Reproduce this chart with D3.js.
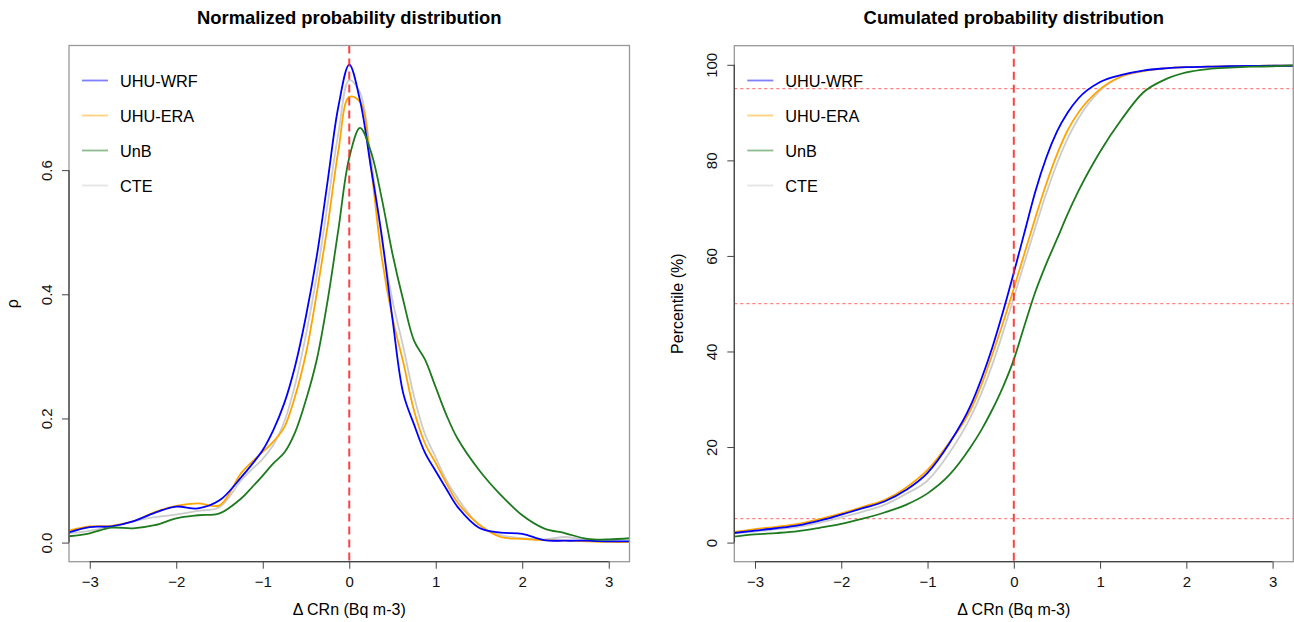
<!DOCTYPE html>
<html><head><meta charset="utf-8">
<script src="https://cdn.jsdelivr.net/npm/d3@7"></script>
<style>body{margin:0;background:#fff}svg{display:block;font-family:"Liberation Sans",Arial,sans-serif}</style>
</head><body><svg id="c" width="1294" height="622"></svg>
<script>
const seriesNames = ["UHU-WRF","UHU-ERA","UnB","CTE"];
const seriesColors = ["#0000ff","#ffa500","#1e7a1e","#cccccc"];
const drawOrder = [3,1,0,2];

// density panel
const densX = [-3.25,-3,-2.75,-2.5,-2.25,-2,-1.75,-1.5,-1.25,-1.125,-1,-0.875,-0.75,-0.625,-0.5,-0.375,-0.25,-0.125,0,0.125,0.25,0.375,0.5,0.625,0.75,0.875,1,1.125,1.25,1.5,1.75,2,2.25,2.5,2.75,3,3.25];
const densWRF = [0.016,0.025,0.026,0.034,0.048,0.058,0.055,0.068,0.105,0.126,0.149,0.182,0.225,0.285,0.365,0.462,0.582,0.703,0.770,0.712,0.605,0.495,0.36,0.24,0.19,0.145,0.115,0.086,0.058,0.024,0.016,0.014,0.004,0.003,0.003,0.002,0.002];
const densERA = [0.019,0.026,0.027,0.034,0.049,0.059,0.063,0.060,0.112,0.130,0.146,0.163,0.186,0.236,0.305,0.402,0.51,0.632,0.718,0.71,0.605,0.46,0.362,0.29,0.212,0.16,0.128,0.095,0.065,0.029,0.009,0.006,0.004,0.003,0.002,0.001,0.001];
const densUnB = [0.010,0.015,0.024,0.023,0.028,0.039,0.044,0.047,0.071,0.089,0.108,0.128,0.145,0.178,0.23,0.295,0.39,0.505,0.62,0.668,0.63,0.555,0.465,0.39,0.325,0.295,0.25,0.205,0.168,0.117,0.077,0.044,0.023,0.015,0.006,0.005,0.007];
const densCTE = [0.015,0.019,0.026,0.034,0.041,0.045,0.051,0.057,0.100,0.118,0.135,0.158,0.195,0.255,0.335,0.43,0.545,0.66,0.745,0.725,0.62,0.488,0.39,0.315,0.235,0.175,0.137,0.10,0.072,0.029,0.012,0.007,0.005,0.009,0.004,0.002,0.002];

// cumulative panel
const cumX = [-3.25,-3,-2.75,-2.5,-2.25,-2,-1.75,-1.5,-1.25,-1,-0.75,-0.5,-0.375,-0.25,-0.125,0,0.125,0.25,0.375,0.5,0.625,0.75,1,1.25,1.5,1.75,2,2.25,2.5,2.75,3,3.25];
const cumWRF = [2.0,2.5,3.0,3.6,4.6,5.85,7.2,8.6,11.0,14.6,20.7,28.7,34.3,40.8,48.3,56.5,65.0,73.5,80.5,86.0,90.0,93.0,96.4,97.9,98.8,99.25,99.5,99.6,99.7,99.75,99.8,99.8];
const cumERA = [2.2,2.8,3.3,3.9,4.9,6.1,7.5,8.9,11.5,15.2,20.9,27.8,33.0,39.3,46.0,53.2,60.6,68.0,75.0,81.2,86.3,90.0,94.9,97.6,98.7,99.25,99.5,99.6,99.7,99.75,99.8,99.8];
const cumUnB = [1.25,1.7,2.0,2.4,3.1,3.9,5.0,6.3,7.9,10.3,14.1,20.0,23.6,27.8,32.6,38.3,45.5,52.5,58.3,63.5,68.8,73.6,81.8,88.6,94.2,96.9,98.4,99.1,99.4,99.6,99.7,99.9];
const cumCTE = [1.9,2.3,2.8,3.3,4.2,5.3,6.5,7.9,10.2,13.0,18.7,26.3,31.3,37.2,44.0,51.3,58.7,66.0,73.0,79.3,84.6,88.8,94.6,97.5,98.7,99.25,99.5,99.6,99.7,99.75,99.8,99.8];

const xTicks = [-3,-2,-1,0,1,2,3];
const densTicks = [0,0.2,0.4,0.6];
const densTickLabels = ["0.0","0.2","0.4","0.6"];
const cumTicks = [0,20,40,60,80,100];
const cumRefLines = [5,50,95];

const svg = d3.select("#c");
const densSeries = [densWRF,densERA,densUnB,densCTE];
const cumSeries = [cumWRF,cumERA,cumUnB,cumCTE];

function panel(o){
  const g = svg.append("g");
  const x = d3.scaleLinear().domain([-3.24,3.24]).range([o.left,o.right]);
  const y = d3.scaleLinear().domain(o.ydom).range([o.bottom,o.top]);
  g.append("text").attr("x",(o.left+o.right)/2).attr("y",24).attr("text-anchor","middle")
    .attr("font-weight","bold").attr("font-size",18.4).text(o.title);
  (o.hlines||[]).forEach(v=>{
    g.append("line").attr("x1",o.left).attr("x2",o.right).attr("y1",y(v)).attr("y2",y(v))
      .attr("stroke","#ff3030").attr("stroke-opacity",0.75).attr("stroke-width",1).attr("stroke-dasharray","3,3");
  });
  const line = d3.line().x(d=>x(d[0])).y(d=>y(d[1])).curve(o.curve);
  const cp = g.append("clipPath").attr("id","cp"+o.id);
  cp.append("rect").attr("x",o.left).attr("y",o.top).attr("width",o.right-o.left).attr("height",o.bottom-o.top);
  const lg = g.append("g").attr("clip-path","url(#cp"+o.id+")");
  drawOrder.forEach(i=>{
    lg.append("path").attr("d",line(o.xs.map((v,k)=>[v,o.series[i][k]])))
      .attr("fill","none").attr("stroke",seriesColors[i]).attr("stroke-width",1.8);
  });
  g.append("line").attr("x1",x(0)).attr("x2",x(0)).attr("y1",o.top).attr("y2",o.bottom)
    .attr("stroke","#ff2020").attr("stroke-opacity",0.85).attr("stroke-width",2).attr("stroke-dasharray","8,5");
  g.append("rect").attr("x",o.left).attr("y",o.top).attr("width",o.right-o.left).attr("height",o.bottom-o.top)
    .attr("fill","none").attr("stroke","#999").attr("stroke-width",1.3);
  const xa = g.append("g").attr("transform",`translate(0,${o.bottom})`)
    .call(d3.axisBottom(x).tickValues(xTicks).tickSize(7).tickPadding(8).tickFormat(d3.format("d")));
  xa.select(".domain").attr("d",`M${x(-3)},0H${x(3)}`).attr("stroke","#444").attr("stroke-width",1.3);
  xa.selectAll(".tick line").attr("stroke","#444");
  xa.selectAll("text").attr("font-size",15).attr("fill","#111").attr("font-family","Liberation Sans, Arial, sans-serif");
  const ya = g.append("g").attr("transform",`translate(${o.left},0)`)
    .call(d3.axisLeft(y).tickValues(o.yticks).tickSize(7).tickFormat((d,i)=>o.ylabels[i]));
  ya.select(".domain").attr("d",`M0,${y(o.yticks[0])}V${y(o.yticks[o.yticks.length-1])}`).attr("stroke","#444").attr("stroke-width",1.3);
  ya.selectAll(".tick line").attr("stroke","#444");
  ya.selectAll("text").attr("font-size",15).attr("fill","#111").attr("font-family","Liberation Sans, Arial, sans-serif")
    .attr("text-anchor","middle").attr("x",0).attr("dy",null)
    .attr("transform","translate(-22,0) rotate(-90)").attr("y",5);
  g.append("text").attr("x",x(0)).attr("y",615).attr("text-anchor","middle").attr("font-size",16).text("\u0394 CRn (Bq m-3)");
  g.append("text").attr("transform",`translate(${o.left-o.ytitleOff},${(o.top+o.bottom)/2}) rotate(-90)`)
    .attr("text-anchor","middle").attr("font-size",16).text(o.ytitle);
  seriesNames.forEach((n,i)=>{
    const yy = 80.5 + i*35;
    g.append("line").attr("x1",o.left+13).attr("x2",o.left+39).attr("y1",yy).attr("y2",yy)
      .attr("stroke",seriesColors[i]).attr("stroke-opacity",0.5).attr("stroke-width",1.8);
    g.append("text").attr("x",o.left+51).attr("y",yy+6).attr("font-size",16.3).text(n);
  });
}

panel({id:1,left:69,right:629.5,top:45.5,bottom:561.7,ydom:[-0.0308,0.8008],xs:densX,series:densSeries,curve:d3.curveCatmullRom.alpha(0.5),
  yticks:densTicks,ylabels:densTickLabels,title:"Normalized probability distribution",ytitle:"\u03c1",ytitleOff:51});
panel({id:2,left:734.3,right:1293.3,top:45.7,bottom:561.7,ydom:[-4,104],xs:cumX,series:cumSeries,curve:d3.curveMonotoneX,
  yticks:cumTicks,ylabels:cumTicks.map(String),hlines:cumRefLines,title:"Cumulated probability distribution",ytitle:"Percentile (%)",ytitleOff:51});
</script></body></html>
